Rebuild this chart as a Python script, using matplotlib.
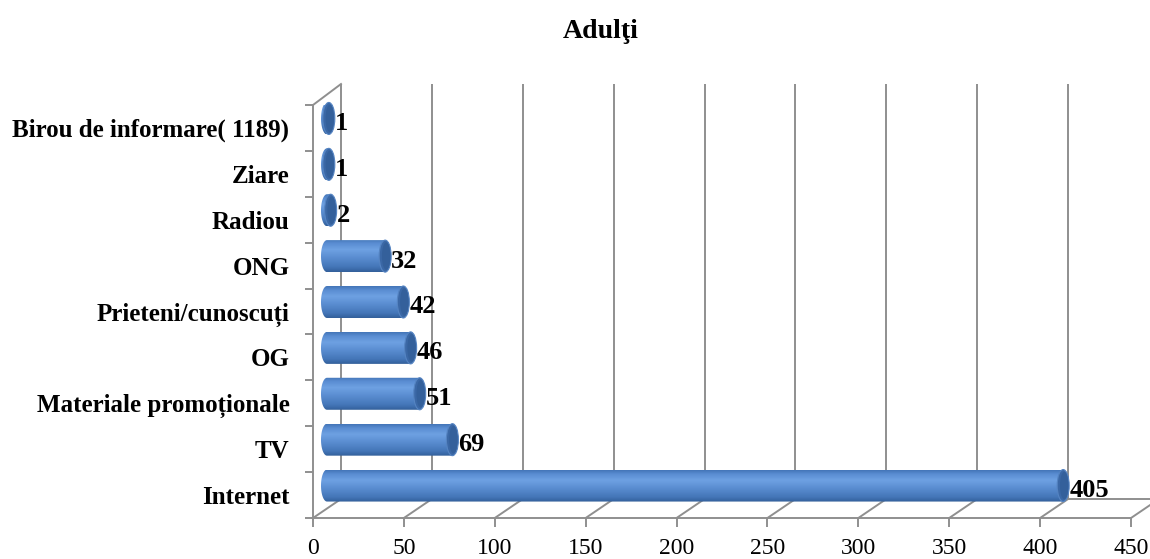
import numpy as np
import matplotlib
matplotlib.use("Agg")
import matplotlib.pyplot as plt
from matplotlib.patches import Ellipse, PathPatch
from matplotlib.path import Path
from matplotlib.colors import LinearSegmentedColormap

# Data
categories = ["Internet", "TV", "Materiale promoționale", "OG",
              "Prieteni/cunoscuți", "ONG", "Radiou", "Ziare",
              "Birou de informare( 1189)"]
values = [405, 69, 51, 46, 42, 32, 2, 1, 1]
x_ticks = [0, 50, 100, 150, 200, 250, 300, 350, 400, 450]
title = "Adulţi"

FONT = "Liberation Serif"
GRID = "#8f8f8f"

W, H, DPI = 1150, 559, 100
fig = plt.figure(figsize=(W / DPI, H / DPI), dpi=DPI, facecolor="white")

# front plane of the pseudo-3D box, in pixels
left_px, right_px, top_px, bottom_px = 313, 1131, 105, 518
ax = fig.add_axes([left_px / W, (H - bottom_px) / H,
                   (right_px - left_px) / W, (bottom_px - top_px) / H])
xmax = x_ticks[-1]
n = len(categories)
ax.set_xlim(0, xmax)
ax.set_ylim(-0.5, n - 0.5)
ax.set_facecolor("none")

xppu = (right_px - left_px) / xmax          # pixels per value unit
yppu = (bottom_px - top_px) / n             # pixels per category
ddx, ddy = 28 / xppu, 19 / yppu             # depth of the box in data units
ddy_top = 21 / yppu

# back wall gridlines
ax.vlines([t + ddx for t in x_ticks if t < xmax],
          -0.5 + ddy, n - 0.5 + ddy_top, colors=GRID, lw=1.4, zorder=1,
          clip_on=False)
# floor diagonals
for t in x_ticks:
    ax.plot([t, t + ddx], [-0.5, -0.5 + ddy], color=GRID, lw=1.4, zorder=1,
            clip_on=False)
# back floor edge
ax.plot([ddx, xmax + ddx], [-0.5 + ddy, -0.5 + ddy], color=GRID, lw=1.4,
        zorder=1, clip_on=False)
# left wall top edge
ax.plot([0, ddx], [n - 0.5, n - 0.5 + ddy_top], color=GRID, lw=1.4, zorder=1,
        clip_on=False)

# axes spines and ticks
for s in ("top", "right"):
    ax.spines[s].set_visible(False)
for s in ("left", "bottom"):
    ax.spines[s].set_color(GRID)
    ax.spines[s].set_linewidth(1.4)
    ax.spines[s].set_zorder(2)

ax.set_xticks(x_ticks)
ax.set_xticklabels([str(t) for t in x_ticks], fontfamily=FONT, fontsize=17)
ax.tick_params(axis="x", direction="out", length=6.5, width=1.4, color=GRID,
               pad=8)
ax.set_yticks(np.arange(-0.5, n, 1.0))
ax.set_yticklabels([])
ax.tick_params(axis="y", which="major", direction="out", length=6, width=1.4,
               color=GRID)
ax.set_yticks(np.arange(n), minor=True)
ax.set_yticklabels(categories, minor=True, fontfamily=FONT, fontsize=18,
                   fontweight="bold")
ax.tick_params(axis="y", which="minor", length=0, pad=17)

# cylinder bars
bar_h = 32 / yppu
ew = 12 / xppu
cmap = LinearSegmentedColormap.from_list(
    "cyl", [(0.0, "#4476b8"), (0.12, "#5a8dd2"), (0.32, "#6ea1e2"),
            (0.55, "#5b8ed2"), (0.85, "#4476b8"), (1.0, "#33609b")])
grad = cmap(np.linspace(0, 1, 64))[:, None, :3]
theta = np.linspace(np.pi / 2, 3 * np.pi / 2, 40)

for i, v in enumerate(values):
    x0 = ddx / 2
    yc = i + ddy / 2
    x1 = x0 + v
    top, bot = yc + bar_h / 2, yc - bar_h / 2
    # outline: straight body plus rounded left end
    arc_x = x0 + (ew / 2) * np.cos(theta[::-1])
    arc_y = yc + (bar_h / 2) * np.sin(theta[::-1])
    verts = [(x0, top), (x1, top), (x1, bot), (x0, bot)]
    verts += list(zip(arc_x, arc_y))[1:]
    verts.append((x0, top))
    path = Path(verts, closed=False)
    clip = PathPatch(path, transform=ax.transData)
    im = ax.imshow(grad, extent=(x0 - ew / 2, x1, bot, top), aspect="auto",
                   origin="upper", interpolation="bilinear", zorder=3,
                   clip_on=True)
    im.set_clip_path(clip)
    # end cap
    ax.add_patch(Ellipse((x1, yc), ew, bar_h, facecolor="#3b68a6",
                         edgecolor="#5584c2", lw=0.8, zorder=4, clip_on=False))
    ax.add_patch(Ellipse((x1 + ew * 0.08, yc), ew * 0.7, bar_h * 0.86,
                         facecolor="#34609b", edgecolor="none", zorder=4,
                         clip_on=False))
    # value label
    ax.text(v + 20 / xppu, i + 0.1, str(v), fontfamily=FONT, fontsize=19,
            fontweight="bold", va="center", ha="left", zorder=5, clip_on=False)

ax.set_xlim(0, xmax)
ax.set_ylim(-0.5, n - 0.5)

fig.text(601 / W, 1 - 32 / H, title, fontfamily=FONT, fontsize=20,
         fontweight="bold", ha="center", va="center")

fig.savefig("out.png", dpi=DPI, facecolor="white")
